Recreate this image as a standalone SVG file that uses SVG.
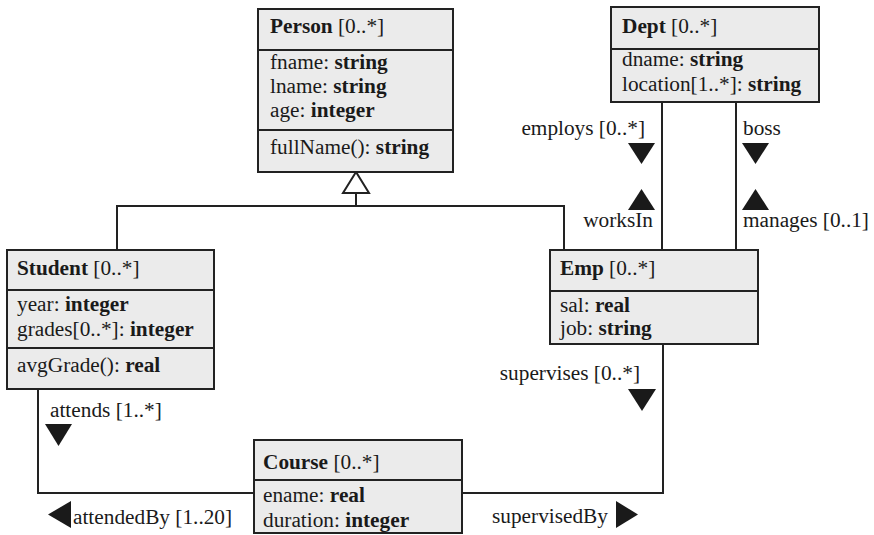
<svg xmlns="http://www.w3.org/2000/svg" width="874" height="535" viewBox="0 0 874 535">
  <style>
    .box { fill: #ebebeb; stroke: #222; stroke-width: 2; }
    .sep { stroke: #222; stroke-width: 2; }
    .wire { fill: none; stroke: #222; stroke-width: 2; }
    .head { fill: #1a1a1a; }
    text { font-family: "Liberation Serif", "Times New Roman", serif; font-size: 21.3px; fill: #1a1a1a; }
    .b { font-weight: bold; }
  </style>
  <rect width="874" height="535" fill="#fff"/>

  <g id="connectors">
    <!-- generalization: Student / Emp -> Person -->
    <polyline class="wire" points="117,250 117,206 564,206 564,250"/>
    <line class="wire" x1="356" y1="193" x2="356" y2="206"/>
    <polygon points="356,172 343,193 369,193" fill="#fff" stroke="#222" stroke-width="2"/>
    <!-- Dept - Emp associations -->
    <line class="wire" x1="662" y1="102" x2="662" y2="250"/>
    <line class="wire" x1="736" y1="102" x2="736" y2="250"/>
    <!-- Student - Course -->
    <polyline class="wire" points="38,389 38,493 254,493"/>
    <!-- Emp - Course -->
    <polyline class="wire" points="462,493 663,493 663,344"/>

    <!-- direction heads -->
    <polygon class="head" points="628,143 655,143 641.5,164"/>
    <polygon class="head" points="628,210 655,210 641.5,189"/>
    <polygon class="head" points="742,143 769,143 755.5,164"/>
    <polygon class="head" points="742,210 769,210 755.5,189"/>
    <polygon class="head" points="628,389 656,389 642,411"/>
    <polygon class="head" points="45,424 72,424 58.5,446"/>
    <polygon class="head" points="71,501 71,528 48,514.5"/>
    <polygon class="head" points="616,501 616,528 638,514.5"/>

    <!-- role labels -->
    <text x="645" y="135" text-anchor="end">employs [0..*]</text>
    <text x="653" y="227" text-anchor="end">worksIn</text>
    <text x="743" y="135">boss</text>
    <text x="743" y="227">manages [0..1]</text>
    <text x="640" y="380" text-anchor="end">supervises [0..*]</text>
    <text x="50" y="417">attends [1..*]</text>
    <text x="73" y="524">attendedBy [1..20]</text>
    <text x="492" y="523">supervisedBy</text>
  </g>

  <g id="person">
    <rect class="box" x="258" y="9" width="195" height="163"/>
    <line class="sep" x1="258" y1="50" x2="453" y2="50"/>
    <line class="sep" x1="258" y1="130" x2="453" y2="130"/>
    <text x="270" y="33"><tspan class="b">Person</tspan> [0..*]</text>
    <text x="270" y="69">fname: <tspan class="b">string</tspan></text>
    <text x="270" y="93">lname: <tspan class="b">string</tspan></text>
    <text x="270" y="117">age: <tspan class="b">integer</tspan></text>
    <text x="270" y="154">fullName(): <tspan class="b">string</tspan></text>
  </g>

  <g id="dept">
    <rect class="box" x="611" y="7" width="208" height="95"/>
    <line class="sep" x1="611" y1="49" x2="819" y2="49"/>
    <text x="622" y="33"><tspan class="b">Dept</tspan> [0..*]</text>
    <text x="622" y="66">dname: <tspan class="b">string</tspan></text>
    <text x="622" y="91">location[1..*]: <tspan class="b">string</tspan></text>
  </g>

  <g id="student">
    <rect class="box" x="7" y="250" width="207" height="139"/>
    <line class="sep" x1="7" y1="290" x2="214" y2="290"/>
    <line class="sep" x1="7" y1="348" x2="214" y2="348"/>
    <text x="17" y="275"><tspan class="b">Student</tspan> [0..*]</text>
    <text x="17" y="311">year: <tspan class="b">integer</tspan></text>
    <text x="17" y="336">grades[0..*]: <tspan class="b">integer</tspan></text>
    <text x="17" y="372">avgGrade(): <tspan class="b">real</tspan></text>
  </g>

  <g id="emp">
    <rect class="box" x="550" y="250" width="208" height="94"/>
    <line class="sep" x1="550" y1="291" x2="758" y2="291"/>
    <text x="560" y="275"><tspan class="b">Emp</tspan> [0..*]</text>
    <text x="560" y="312">sal: <tspan class="b">real</tspan></text>
    <text x="560" y="335">job: <tspan class="b">string</tspan></text>
  </g>

  <g id="course">
    <rect class="box" x="254" y="440" width="208" height="93"/>
    <line class="sep" x1="254" y1="480" x2="462" y2="480"/>
    <text x="263" y="469"><tspan class="b">Course</tspan> [0..*]</text>
    <text x="263" y="502">ename: <tspan class="b">real</tspan></text>
    <text x="263" y="527">duration: <tspan class="b">integer</tspan></text>
  </g>
</svg>
